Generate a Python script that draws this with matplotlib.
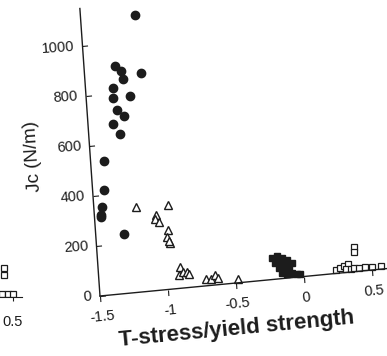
"""Fracture toughness Jc against normalised T-stress, drawn on a slightly skewed frame."""

import numpy as np
import matplotlib

matplotlib.use("Agg")
import matplotlib.pyplot as plt
from matplotlib.transforms import Affine2D
import mpl_toolkits.axisartist.floating_axes as floating_axes
from mpl_toolkits.axisartist.grid_finder import FixedLocator, DictFormatter

plt.rcParams["font.family"] = ["Liberation Sans", "DejaVu Sans"]

# filled circles
circle_x = [-1.10, -1.27, -1.23, -1.09, -1.22, -1.30, -1.30, -1.18, -1.28,
            -1.23, -1.32, -1.27, -1.40, -1.42, -1.44, -1.45, -1.45, -1.29]
circle_y = [1105, 908, 885, 871, 853, 823, 783, 782, 731,
            707, 677, 635, 536, 420, 352, 321, 313, 236]

# open triangles
tri_x = [-1.19, -0.955, -1.05, -1.06, -1.03, -0.97, -0.98, -0.96, -0.97,
         -0.90, -0.91, -0.88, -0.85, -0.84, -0.72, -0.68, -0.65, -0.63, -0.48]
tri_y = [339, 334, 301, 284, 271, 236, 209, 184, 193,
         86, 55, 62, 63, 52, 26, 26, 38, 25, 14]

# filled squares
fsq_x = [-0.224, -0.187, -0.151, -0.116, -0.203, -0.166, -0.118, -0.081,
         -0.18, -0.144, -0.108, -0.159, -0.123, -0.086, -0.05, -0.026]
fsq_y = [86, 90, 82, 73, 64, 63, 56, 58, 43, 39, 37, 22, 16, 18, 14, 12]

# open squares
osq_x = [0.24, 0.27, 0.30, 0.33, 0.31, 0.35, 0.37, 0.38, 0.38, 0.405, 0.45, 0.50, 0.57]
osq_y = [13, 20, 27, 33, 13, 13, 16, 100, 78, 13, 13, 13, 13]

# neighbouring panel, only its right edge shows
side_x = [0.42, 0.46, 0.50, 0.43, 0.43]
side_y = [14, 14, 14, 90, 118]

x_ticks = [-1.5, -1, -0.5, 0, 0.5]
x_labels = ["-1.5", "-1", "-0.5", "0", "0.5"]
y_ticks = [0, 200, 400, 600, 800, 1000]
y_labels = [str(v) for v in y_ticks]

W, H = 387, 356
INK = "#1c1c1c"

fig = plt.figure(figsize=(W / 100, H / 100), dpi=100)

# data -> pixel units: the x axis climbs to the right, the y axis leans left
skew = Affine2D(np.array([[136.0, -0.0175, 0.0],
                          [13.0, 0.25, 0.0],
                          [0.0, 0.0, 1.0]]))
extremes = (-1.5, 0.62, 0, 1150)

helper = floating_axes.GridHelperCurveLinear(
    skew, extremes=extremes,
    grid_locator1=FixedLocator(x_ticks),
    grid_locator2=FixedLocator(y_ticks),
    tick_formatter1=DictFormatter(dict(zip(x_ticks, x_labels))),
    tick_formatter2=DictFormatter(dict(zip(y_ticks, y_labels))),
)

# size of the skewed frame in pixels (plus the 2% margin the axes adds)
corners = skew.transform([[extremes[0], extremes[2]], [extremes[1], extremes[2]],
                          [extremes[0], extremes[3]], [extremes[1], extremes[3]]])
span_x = corners[:, 0].max() - corners[:, 0].min()
span_y = corners[:, 1].max() - corners[:, 1].min()
org_dx = corners[0, 0] - corners[:, 0].min() + 0.01 * span_x
org_dy = corners[0, 1] - corners[:, 1].min() + 0.01 * span_y
origin_px = (100, H - 296)
rect = [(origin_px[0] - org_dx) / W, (origin_px[1] - org_dy) / H,
        1.02 * span_x / W, 1.02 * span_y / H]

ax = fig.add_axes(rect, axes_class=floating_axes.FloatingAxes, grid_helper=helper)
ax.patch.set_facecolor("none")
for side in ("top", "right"):
    ax.axis[side].set_visible(False)

for side in ("left", "bottom"):
    ax.axis[side].line.set_linewidth(1.0)
    ax.axis[side].line.set_color(INK)
    ax.axis[side].major_ticks.set_ticksize(4)
    ax.axis[side].major_ticks.set_linewidth(1.0)
    ax.axis[side].major_ticks.set_color(INK)
    ax.axis[side].major_ticklabels.set_fontsize(10.5)
    ax.axis[side].major_ticklabels.set_color(INK)

ax.axis["bottom"].major_ticks.set_tick_out(True)
ax.axis["left"].major_ticklabels.set_pad(6)
ax.axis["bottom"].major_ticklabels.set_pad(7)

ax.axis["left"].label.set_text("Jc (N/m)")
ax.axis["left"].label.set_fontsize(13.5)
ax.axis["left"].label.set_color(INK)
ax.axis["left"].label.set_pad(5)

fig.text(237 / W, 1 - 329 / H, "T-stress/yield strength", fontsize=16,
         fontweight="bold", color=INK, rotation=5.5, rotation_mode="anchor",
         ha="center", va="center")

aux = ax.get_aux_axes(skew)
aux.plot(circle_x, circle_y, "o", ms=6.0, color=INK, mec=INK, ls="none")
aux.plot(tri_x, tri_y, "^", ms=5.8, mfc="white", mec=INK, mew=1.0, ls="none")
aux.plot(fsq_x, fsq_y, "s", ms=5.0, color=INK, mec=INK, ls="none")
aux.plot(osq_x, osq_y, "s", ms=4.8, mfc="white", mec=INK, mew=0.9, ls="none")

# right-hand end of the neighbouring panel
side_ax = fig.add_axes([(22 - 200) / W, (H - 297) / H, 200 / W, 287.5 / H])
side_ax.set_xlim(0.566 - 200 / 136, 0.566)
side_ax.set_ylim(0, 1150)
side_ax.patch.set_visible(False)
for s in ("top", "right", "left"):
    side_ax.spines[s].set_visible(False)
side_ax.spines["bottom"].set_color(INK)
side_ax.set_yticks([])
side_ax.set_xticks([0.5], ["0.5"])
side_ax.tick_params(axis="x", direction="inout", length=6, colors=INK, labelsize=10.5, pad=10)
side_ax.plot(side_x, side_y, "s", ms=4.8, mfc="white", mec=INK, mew=0.9, ls="none")

fig.savefig("out.png", dpi=100, facecolor="white")
